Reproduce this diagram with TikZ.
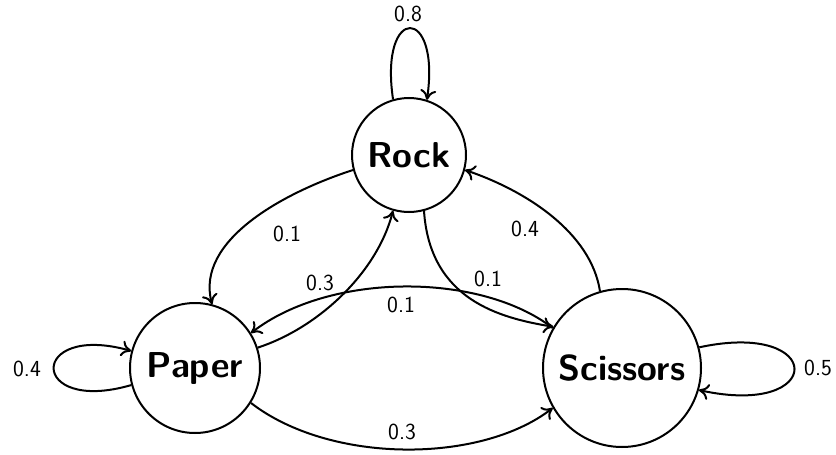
\documentclass[tikz,border=0pt]{standalone}
\usetikzlibrary{arrows.meta}
\begin{document}
\begin{tikzpicture}[x=1pt,y=1pt,
  state/.style={circle,draw,line width=2pt,inner sep=0pt,font=\sffamily\bfseries\fontsize{36}{40}\selectfont},
  edge/.style={line width=2pt,-{To[length=10pt,width=16pt]}},
  lbl/.style={font=\sffamily\fontsize{23}{26}\selectfont,inner sep=0pt}]
\useasboundingbox (0,0) rectangle (836,-455);
\node[state,minimum size=114pt] (R) at (409,-155) {Rock};
\node[state,minimum size=130pt] (P) at (195,-368) {Paper};
\node[state,minimum size=158pt] (S) at (622,-368) {Scissors};
% Rock loop
\draw[edge] (R.106) .. controls +(-14,95) and +(14,95) .. (R.72);
\node[lbl] (l1) at (408,-14) {0.8};
% Rock -> Paper
\draw[edge] (R.195) .. controls (285,-192) and (195,-240) .. (P.75);
\node[lbl] (l2) at (287,-234) {0.1};
% Paper -> Rock
\draw[edge] (P.18) .. controls (318,-328) and (377,-273) .. (R.254);
\node[lbl] (l3) at (320,-283) {0.3};
% Rock -> Scissors
\draw[edge] (R.285) .. controls (430,-300) and (500,-318) .. (S.149);
\node[lbl] (l4) at (488,-279) {0.1};
% Scissors -> Rock
\draw[edge] (S.106) .. controls (591,-233) and (527,-191) .. (R.345);
\node[lbl] (l5) at (525,-229) {0.4};
% Scissors -> Paper
\draw[edge] (S.150) .. controls (480,-272) and (330,-272) .. (P.32);
\node[lbl] (l6) at (401,-305) {0.1};
% Paper -> Scissors
\draw[edge] (P.328) .. controls (330,-464) and (480,-464) .. (S.210);
\node[lbl] (l7) at (402,-432) {0.3};
% Paper loop
\draw[edge] (P.195) .. controls (28,-415) and (28,-322) .. (P.165);
\node[lbl] (l8) at (27,-369) {0.4};
% Scissors loop
\draw[edge] (S.15) .. controls (826,-320) and (826,-418) .. (S.344);
\node[lbl] (l9) at (818,-368) {0.5};
\end{tikzpicture}
\end{document}
